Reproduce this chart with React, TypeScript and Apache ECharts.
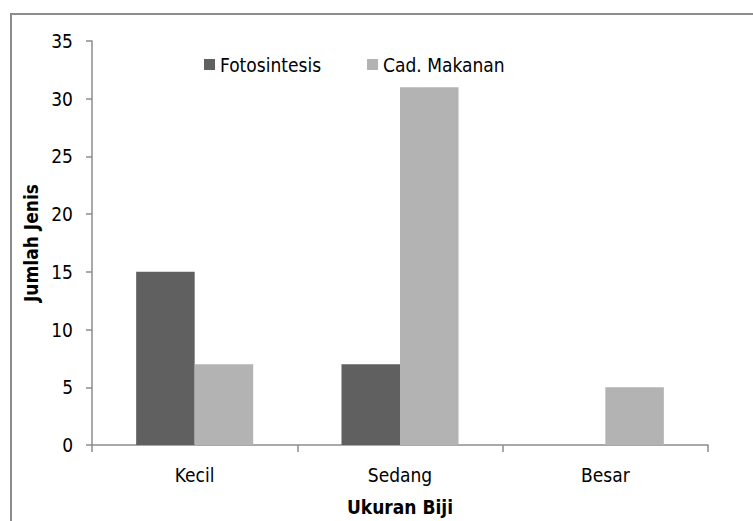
import React, { useEffect, useRef } from "react";
import * as echarts from "echarts";

const categories = ["Kecil", "Sedang", "Besar"];
const fotosintesis = [15, 7, 0];
const cadMakanan = [7, 31, 5];
const seriesNames = ["Fotosintesis", "Cad. Makanan"];
const xAxisName = "Ukuran Biji";
const yAxisName = "Jumlah Jenis";

const FONT = "'Liberation Sans Narrow', 'DejaVu Sans Condensed', sans-serif";

export default function App() {
  const ref = useRef<HTMLDivElement>(null);
  useEffect(() => {
    if (!ref.current) return;
    const chart = echarts.init(ref.current, null, { renderer: "svg" });
    chart.setOption({
      animation: false,
      backgroundColor: "#ffffff",
      graphic: [
        {
          type: "rect",
          shape: { x: 11, y: 14, width: 800, height: 600 },
          style: { fill: "none", stroke: "#8c8c8c", lineWidth: 2 },
          silent: true,
        },
      ],
      legend: {
        left: 199,
        top: 50,
        itemWidth: 11,
        itemHeight: 11,
        itemGap: 46,
        icon: "rect",
        textStyle: { fontFamily: FONT, fontSize: 19, color: "#000" },
        data: seriesNames,
      },
      grid: { left: 92, right: 45, top: 41, bottom: 72, containLabel: false },
      xAxis: {
        type: "category",
        data: categories,
        name: xAxisName,
        nameLocation: "middle",
        nameGap: 52,
        nameTextStyle: { fontFamily: FONT, fontSize: 19, fontWeight: "bold", color: "#000" },
        axisLine: { lineStyle: { color: "#8c8c8c", width: 1.5 } },
        axisTick: { show: true, length: 7, lineStyle: { color: "#8c8c8c", width: 1.5 } },
        axisLabel: { fontFamily: FONT, fontSize: 19, color: "#000", margin: 20 },
      },
      yAxis: {
        type: "value",
        min: 0,
        max: 35,
        interval: 5,
        name: yAxisName,
        nameLocation: "middle",
        nameGap: 44,
        nameTextStyle: { fontFamily: FONT, fontSize: 19, fontWeight: "bold", color: "#000" },
        splitLine: { show: false },
        axisLine: { show: true, lineStyle: { color: "#8c8c8c", width: 1.5 } },
        axisTick: { show: true, length: 6, lineStyle: { color: "#8c8c8c", width: 1.5 } },
        axisLabel: { fontFamily: FONT, fontSize: 19, color: "#000", margin: 19 },
      },
      series: [
        {
          name: seriesNames[0],
          type: "bar",
          data: fotosintesis,
          barGap: "0%",
          barCategoryGap: "43%",
          itemStyle: { color: "#606060" },
        },
        {
          name: seriesNames[1],
          type: "bar",
          data: cadMakanan,
          barGap: "0%",
          barCategoryGap: "43%",
          itemStyle: { color: "#b3b3b3" },
        },
      ],
    });
    return () => chart.dispose();
  }, []);
  return (
    <div
      ref={ref}
      style={{ position: "fixed", left: 0, top: 0, width: 753, height: 521 }}
    />
  );
}
